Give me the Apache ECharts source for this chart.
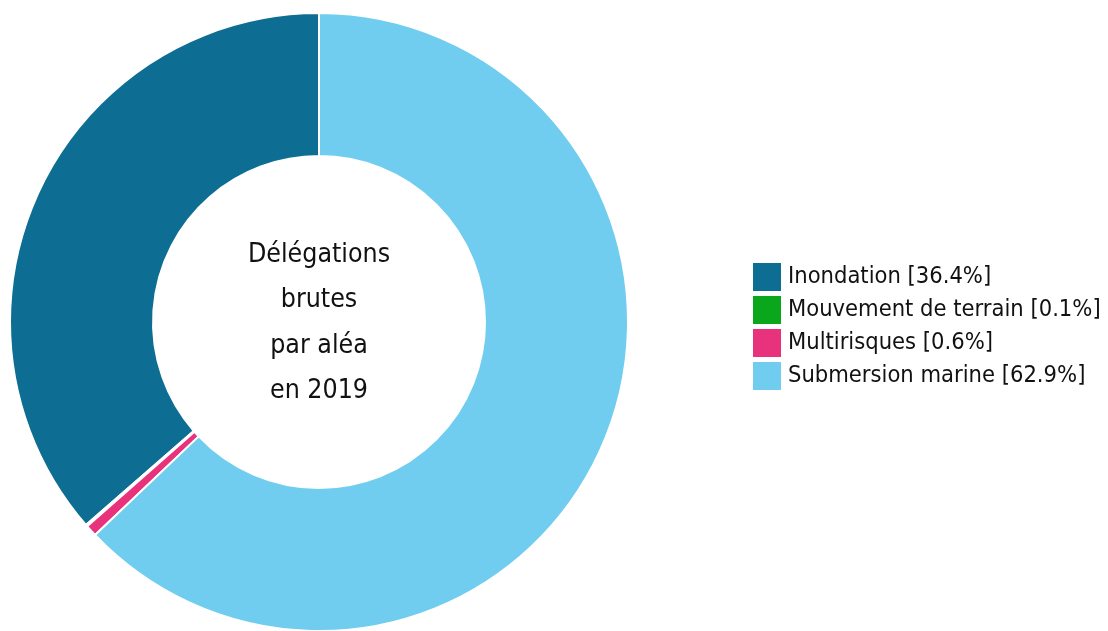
<!DOCTYPE html>
<html>
<head>
<meta charset="utf-8">
<script src="https://cdn.jsdelivr.net/npm/echarts@6/dist/echarts.min.js"></script>
<style>
html, body { margin: 0; padding: 0; background: #fff; }
#chart { width: 1108px; height: 631px; }
</style>
</head>
<body>
<div id="chart"></div>
<script>
// delegations par aléa, 2019 (%)
const categories = ['Inondation', 'Mouvement de terrain', 'Multirisques', 'Submersion marine'];
const shares = [36.4, 0.1, 0.6, 62.9];
const colors = ['#0e6d92', '#0aa61c', '#e8327c', '#70cdef'];
const centerLines = ['Délégations', 'brutes', 'par aléa', 'en 2019'];

const font = '"DejaVu Sans Condensed", "Liberation Sans Narrow", "Noto Sans", sans-serif';

let dom = echarts.init(document.getElementById('chart'));
let option = {
    animation: false,
    color: colors,
    legend: {
        orient: 'vertical',
        left: 748,
        top: 258,
        itemWidth: 28,
        itemHeight: 28,
        itemGap: 5,
        icon: 'rect',
        selectedMode: false,
        itemStyle: { borderWidth: 0 },
        textStyle: {
            fontFamily: font,
            fontSize: 23.5,
            lineHeight: 28,
            padding: [0, 0, 0, 2],
            color: '#111'
        },
        formatter: function (name) {
            let i = categories.indexOf(name);
            return name + ' [' + shares[i].toFixed(1) + '%]';
        }
    },
    graphic: [{
        type: 'text',
        x: 319,
        y: 323,
        style: {
            text: centerLines.join('\n'),
            align: 'center',
            verticalAlign: 'middle',
            fontFamily: font,
            fontSize: 26.5,
            lineHeight: 45.5,
            fill: '#111'
        }
    }],
    series: [{
        type: 'pie',
        center: [319, 322],
        radius: [166, 309],
        startAngle: 90,
        clockwise: false,
        label: { show: false },
        labelLine: { show: false },
        itemStyle: {
            borderColor: '#fff',
            borderWidth: 2
        },
        emphasis: { disabled: true },
        data: categories.map((c, i) => ({ name: c, value: shares[i] }))
    }]
};
dom.setOption(option);
</script>
</body>
</html>
